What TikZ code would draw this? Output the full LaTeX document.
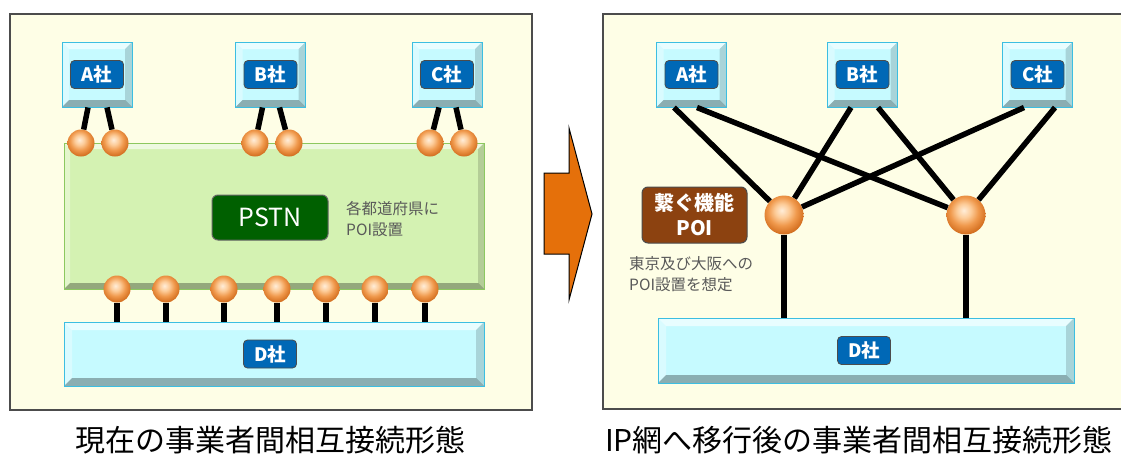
\documentclass[tikz,border=0pt]{standalone}
\usepackage{fontspec}
\setmainfont{Noto Sans CJK JP}
\definecolor{framefill}{RGB}{254,254,230}
\definecolor{boxcyan}{RGB}{198,250,255}
\definecolor{boxedge}{RGB}{60,190,225}
\definecolor{labelblue}{RGB}{0,104,182}
\definecolor{netgreen}{RGB}{212,242,178}
\definecolor{netedge}{RGB}{140,200,95}
\definecolor{pstngreen}{RGB}{0,96,0}
\definecolor{poibrown}{RGB}{140,66,16}
\definecolor{arroworange}{RGB}{229,112,10}
\pgfdeclareradialshading{poiball}{\pgfpoint{-3bp}{6bp}}{%
    rgb(0bp)=(1,0.93,0.85);
    rgb(9bp)=(0.99,0.8,0.6);
    rgb(18bp)=(0.94,0.6,0.3);
    rgb(27bp)=(0.84,0.45,0.14);
    rgb(36bp)=(0.68,0.33,0.08);
    rgb(80bp)=(0.68,0.33,0.08)}
\begin{document}
\begin{tikzpicture}[x=1pt,y=-1pt,
        panel/.style={draw=black!70,line width=1.3pt,fill=framefill},
        bevelled/.style={path picture={
            \path (path picture bounding box.north west) coordinate (bnw)
                  (path picture bounding box.north east) coordinate (bne)
                  (path picture bounding box.south west) coordinate (bsw)
                  (path picture bounding box.south east) coordinate (bse);
            \fill[white,opacity=.6] (bnw) -- (bne) -- ([shift={(-#1,-#1)}]bne) -- ([shift={(#1,-#1)}]bnw) -- cycle;
            \fill[white,opacity=.35] (bnw) -- (bsw) -- ([shift={(#1,#1)}]bsw) -- ([shift={(#1,-#1)}]bnw) -- cycle;
            \fill[black,opacity=.15] (bne) -- (bse) -- ([shift={(-#1,#1)}]bse) -- ([shift={(-#1,-#1)}]bne) -- cycle;
            \fill[black,opacity=.3] (bsw) -- (bse) -- ([shift={(-#1,#1)}]bse) -- ([shift={(#1,#1)}]bsw) -- cycle;
        }},
        cobox/.style={draw=boxedge,line width=1pt,fill=boxcyan,bevelled=7pt,inner sep=0pt,
            minimum width=70pt,minimum height=65pt},
        colabel/.style={draw=black!70,fill=labelblue,text=white,rounded corners=4pt,line width=.8pt,
            inner sep=0pt,minimum width=53pt,minimum height=28pt,font=\bfseries\fontsize{18.5}{19}\selectfont},
        netbox/.style={draw=netedge,line width=1pt,fill=netgreen,bevelled=6pt,inner sep=0pt},
        poi/.style={circle,shading=poiball,inner sep=0pt,minimum size=#1},
        poi/.default=27pt,
        link/.style={line width=5.5pt},
        note/.style={text=black!65,align=left,inner sep=0pt,font=\fontsize{15.5}{21}\selectfont},
        caption/.style={font=\fontsize{30}{32}\selectfont}]
    \useasboundingbox (0,0) rectangle (1121,455);
    \draw[panel] (10,14) rectangle (532,410);
    \draw[panel] (603,14) rectangle (1130,409);
    \draw[fill=arroworange,draw=black,line width=1pt]
        (544,173) -- (569,173) -- (569,128) -- (592,214) -- (569,300) -- (569,254) -- (544,254) -- cycle;

    % current form
    \node[netbox,minimum width=420pt,minimum height=146pt] (net) at (274,216) {};
    \node[draw=black!60,fill=pstngreen,text=white,rounded corners=6pt,line width=1pt,inner sep=0pt,
        minimum width=116pt,minimum height=45pt,font=\fontsize{25}{26}\selectfont] (pstn) at (270,217.5) {PSTN};
    \node[note,anchor=north west] (pref) at (346,201) {各都道府県に\\POI設置};
    \node[cobox,minimum width=420pt,minimum height=64pt,bevelled=8pt] (ld) at (274,354) {};
    \node[colabel] at (270,354) {D社};
    \node[cobox] (la) at (97,74.5) {};
    \node[colabel] at (la) {A社};
    \node[cobox] (lb) at (270.5,74.5) {};
    \node[colabel] at (lb) {B社};
    \node[cobox] (lc) at (447,74.5) {};
    \node[colabel] at (lc) {C社};
    \foreach \x/\n in {81/1,115/2,255/3,289/4,430/5,464/6}
        \node[poi] (tp\n) at (\x,143) {};
    \foreach \x/\n in {117/1,166/2,224/3,277/4,326/5,375/6,425/7}
        \node[poi] (bp\n) at (\x,289) {};
    \draw[link] ([xshift=-9pt]la.south) -- (tp1);
    \draw[link] ([xshift=10pt]la.south) -- (tp2);
    \draw[link] ([xshift=-8pt]lb.south) -- (tp3);
    \draw[link] ([xshift=9pt]lb.south) -- (tp4);
    \draw[link] ([xshift=-8pt]lc.south) -- (tp5);
    \draw[link] ([xshift=9pt]lc.south) -- (tp6);
    \foreach \n in {1,...,7}
        \draw[link] (bp\n) -- (bp\n |- ld.north);
    \node[caption] (now) at (270,440) {現在の事業者間相互接続形態};

    % after IP migration
    \node[cobox] (ra) at (691.5,74.5) {};
    \node[colabel] at (ra) {A社};
    \node[cobox] (rb) at (862.5,74.5) {};
    \node[colabel] at (rb) {B社};
    \node[cobox] (rc) at (1037.5,74.5) {};
    \node[colabel] at (rc) {C社};
    \node[cobox,minimum width=416pt,minimum height=65pt,bevelled=8pt] (rd) at (866,350.5) {};
    \node[colabel] at (864,350.5) {D社};
    \node[poi=39pt] (rp1) at (784,215) {};
    \node[poi=39pt] (rp2) at (966,215) {};
    \draw[link] ([xshift=-17.5pt]ra.south) -- (rp1);
    \draw[link] ([xshift=5.5pt]ra.south) -- (rp2);
    \draw[link] ([xshift=-11.5pt]rb.south) -- (rp1);
    \draw[link] ([xshift=15.5pt]rb.south) -- (rp2);
    \draw[link] ([xshift=-13.5pt]rc.south) -- (rp1);
    \draw[link] ([xshift=17.5pt]rc.south) -- (rp2);
    \draw[link] (rp1) -- (rp1 |- rd.north);
    \draw[link] (rp2) -- (rp2 |- rd.north);
    \node[draw=black!70,fill=poibrown,text=white,rounded corners=6pt,line width=1pt,align=center,
        inner sep=0pt,minimum width=105pt,minimum height=56pt,
        font=\bfseries\fontsize{20}{25}\selectfont] (func) at (694.5,215) {繋ぐ機能\\POI};
    \node[note,anchor=north west] (plan) at (629,256) {東京及び大阪への\\POI設置を想定};
    \node[caption] (after) at (859,440) {IP網へ移行後の事業者間相互接続形態};
\end{tikzpicture}
\end{document}
